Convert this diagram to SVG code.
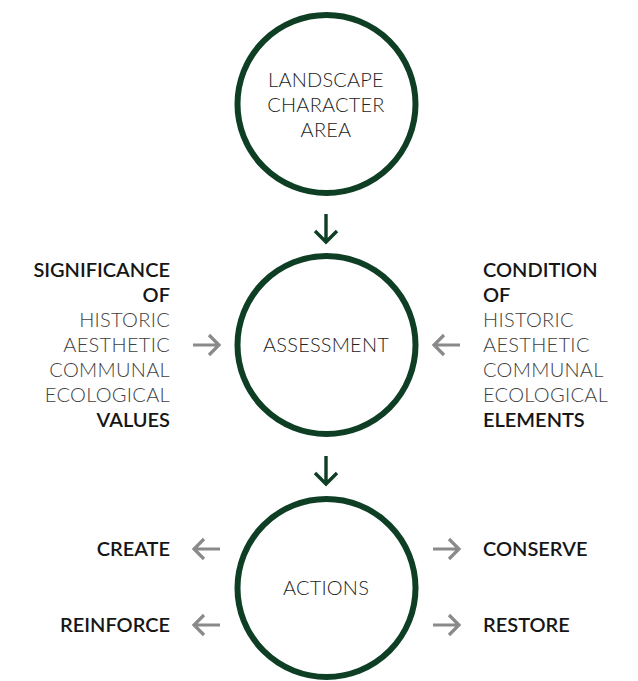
<svg xmlns="http://www.w3.org/2000/svg" width="638" height="681" viewBox="0 0 638 681">
<style>
.ring{fill:#fff;stroke:#0e3f25;stroke-width:6}
.ct{font-family:Lato,"Open Sans",sans-serif;font-weight:300;font-size:20px;letter-spacing:0.2px;fill:#222;text-anchor:middle}
.lt{font-family:Lato,"Open Sans",sans-serif;font-weight:300;font-size:20px;letter-spacing:0.3px;fill:#404040}
.b{font-weight:600;fill:#161616;letter-spacing:0}
.r{text-anchor:end}
.ga{fill:none;stroke:#8a8a8a;stroke-width:3.2;stroke-linecap:butt}
.da{fill:none;stroke:#0e3f25;stroke-width:3.4}
</style>
<rect width="638" height="681" fill="#fff"/>
<g id="connectors">
<path class="da" d="M326 214V242M315 231L326 242L337 231"/>
<path class="da" d="M326 456V484M315 473L326 484L337 473"/>
<path class="ga" d="M193 345H219M209 335L219 345L209 355"/>
<path class="ga" d="M460 345H434M444 335L434 345L444 355"/>
<path class="ga" d="M220 549H194M204 539L194 549L204 559"/>
<path class="ga" d="M220 625H194M204 615L194 625L204 635"/>
<path class="ga" d="M433 549H459M449 539L459 549L449 559"/>
<path class="ga" d="M433 625H459M449 615L459 625L449 635"/>
</g>
<g id="landscape">
<circle class="ring" cx="326.5" cy="104" r="89"/>
<text class="ct" x="326" y="87">LANDSCAPE</text>
<text class="ct" x="326" y="112">CHARACTER</text>
<text class="ct" x="326" y="137">AREA</text>
</g>
<g id="assessment">
<circle class="ring" cx="326.5" cy="345" r="89"/>
<text class="ct" x="326" y="352">ASSESSMENT</text>
</g>
<g id="actions">
<circle class="ring" cx="326.5" cy="588" r="89"/>
<text class="ct" x="326" y="595">ACTIONS</text>
</g>
<g id="significance">
<text class="lt r b" x="170" y="277">SIGNIFICANCE</text>
<text class="lt r b" x="170" y="302">OF</text>
<text class="lt r" x="170" y="327">HISTORIC</text>
<text class="lt r" x="170" y="352">AESTHETIC</text>
<text class="lt r" x="170" y="377">COMMUNAL</text>
<text class="lt r" x="170" y="402">ECOLOGICAL</text>
<text class="lt r b" x="170" y="427">VALUES</text>
</g>
<g id="condition">
<text class="lt b" x="483" y="277">CONDITION</text>
<text class="lt b" x="483" y="302">OF</text>
<text class="lt" x="483" y="327">HISTORIC</text>
<text class="lt" x="483" y="352">AESTHETIC</text>
<text class="lt" x="483" y="377">COMMUNAL</text>
<text class="lt" x="483" y="402">ECOLOGICAL</text>
<text class="lt b" x="483" y="427">ELEMENTS</text>
</g>
<g id="create"><text class="lt r b" x="170" y="556">CREATE</text></g>
<g id="reinforce"><text class="lt r b" x="170" y="632">REINFORCE</text></g>
<g id="conserve"><text class="lt b" x="483" y="556">CONSERVE</text></g>
<g id="restore"><text class="lt b" x="483" y="632">RESTORE</text></g>
</svg>
